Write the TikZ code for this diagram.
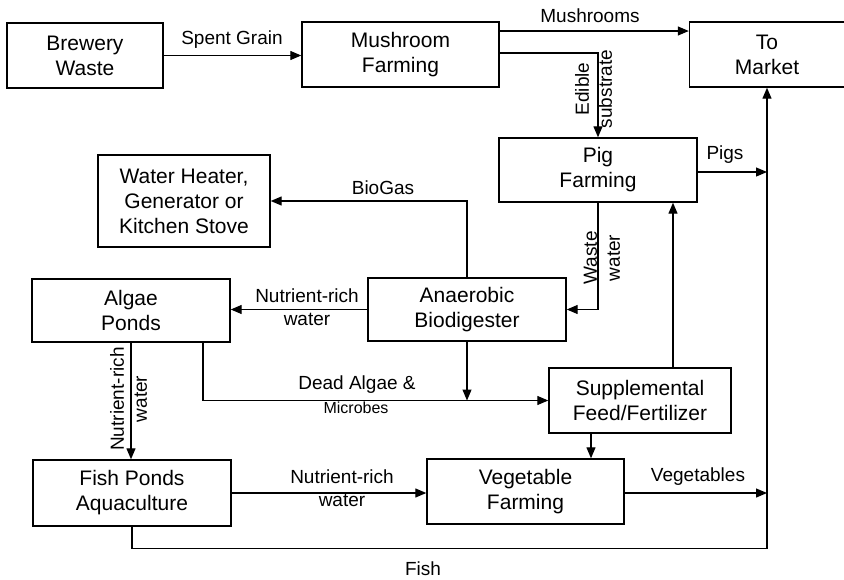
\documentclass[tikz,border=0pt]{standalone}
\usepackage{fontspec}
\setmainfont{Liberation Sans}
\usetikzlibrary{arrows.meta}

\begin{document}
\begin{tikzpicture}[x=1pt, y=-1pt,
		unit/.style={draw, line width=1.4pt, align=center, inner sep=0pt, font=\fontsize{21}{25}\selectfont},
		flow/.style={line width=1.2pt, -{Triangle[length=11pt, width=9pt]}},
		pipe/.style={line width=1.2pt},
		tag/.style={align=center, inner sep=0pt, font=\fontsize{19}{23}\selectfont}]
			%%%%% START %%%%%
			\useasboundingbox (0,0) rectangle (844,579);
			
			\node[unit, minimum width=156pt, minimum height=65pt] (brew) at (85, 55.5) {Brewery\\Waste};
			\node[unit, minimum width=197pt, minimum height=65pt] (mush) at (400.5, 54.5) {Mushroom\\Farming};
			\node[unit, minimum width=155pt, minimum height=65pt] (market) at (767, 54.5) {To\\Market};
			\node[unit, minimum width=198pt, minimum height=64pt] (pig) at (598, 170) {Pig\\Farming};
			\node[unit, minimum width=172pt, minimum height=92pt] (heater) at (184, 201) {Water Heater,\\Generator or\\Kitchen Stove};
			\node[unit, minimum width=198pt, minimum height=63pt] (algae) at (131, 310.5) {Algae\\Ponds};
			\node[unit, minimum width=198pt, minimum height=63pt] (biodig) at (467, 309.5) {Anaerobic\\Biodigester};
			\node[unit, minimum width=182pt, minimum height=65pt] (suppl) at (640, 400.5) {Supplemental\\Feed/Fertilizer};
			\node[unit, minimum width=198pt, minimum height=66pt] (fish) at (132, 493) {Fish Ponds\\Aquaculture};
			\node[unit, minimum width=197pt, minimum height=65pt] (veg) at (525.5, 491.5) {Vegetable\\Farming};
			
			\coordinate (pigsend) at (market.south |- 0,172);
			\coordinate (vegend) at (market.south |- 0,493);
			
			% top row
			\draw[flow] (brew.east) -- (brew.east -| mush.west);
			\node[tag] at (232, 40) {Spent Grain};
			\draw[flow] (mush.east |- 0,31) -- (market.west |- 0,31);
			\node[tag] at (590, 16) {Mushrooms};
			\draw[flow] (mush.east |- 0,53) -| (pig.north);
			\node[tag, rotate=90] at (593.5, 89) {Edible\\substrate};
			\draw[flow] (pig.east |- pigsend) -- (pigsend);
			\node[tag] at (725, 155) {Pigs};
			
			% biodigester
			\draw[flow] (pig.south) |- (biodig.east);
			\node[tag, rotate=90] at (602, 258) {Waste\\water};
			\draw[flow] (biodig.north) |- (heater.east);
			\node[tag] at (383, 188) {BioGas};
			\draw[flow] (biodig.west) -- (biodig.west -| algae.east);
			\node[tag] at (307, 307) {Nutrient-rich\\water};
			
			% algae
			\draw[flow] (algae.south) -- (algae.south |- fish.north);
			\node[tag, rotate=90] at (128.5, 399) {Nutrient-rich\\water};
			\draw[flow] ([xshift=72pt]algae.south) |- (suppl.west);
			\draw[flow] (biodig.south) -- (biodig.south |- suppl.west);
			\node[tag] at (357, 385) {Dead Algae \&};
			\node[tag, font=\fontsize{16}{19}\selectfont] at (356, 408) {Microbes};
			
			% feed
			\draw[flow] ([xshift=-49pt]suppl.south) -- ([xshift=-49pt]suppl.south |- veg.north);
			\draw[flow] ([xshift=33pt]suppl.north) -- ([xshift=33pt]suppl.north |- pig.south);
			
			% bottom row
			\draw[flow] (fish.east) -- (fish.east -| veg.west);
			\node[tag] at (342, 488) {Nutrient-rich\\water};
			\draw[flow] (veg.east |- vegend) -- (vegend);
			\node[tag] at (698, 477) {Vegetables};
			\draw[flow] (fish.south) -- ++(0,22) -| (market.south);
			\node[tag] at (423, 569) {Fish};
			
			%%%%% END %%%%%
\end{tikzpicture}
\end{document}
